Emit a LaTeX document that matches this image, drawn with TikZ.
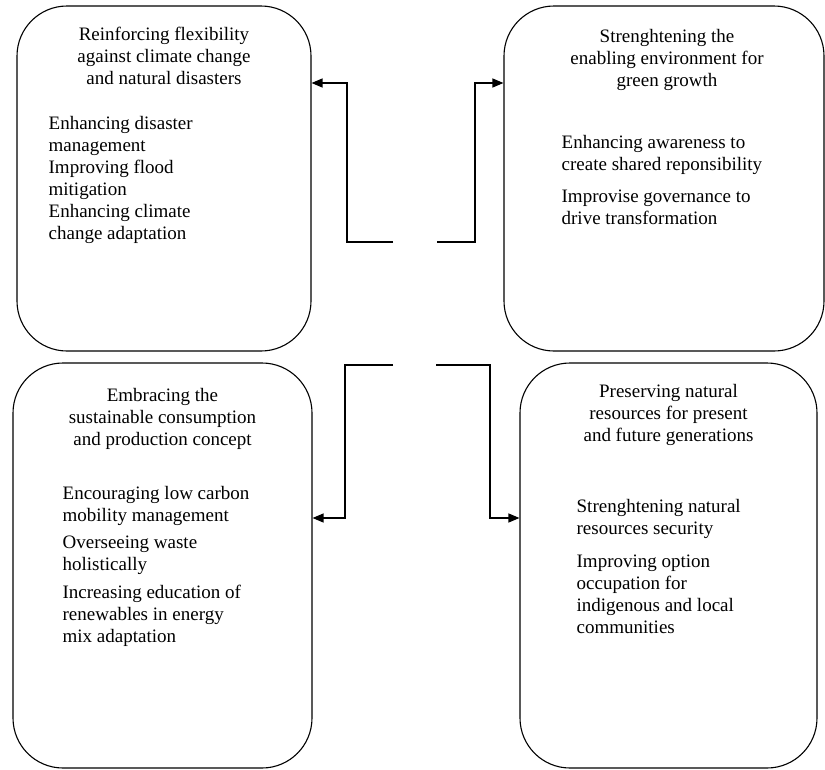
\documentclass[tikz,border=0pt]{standalone}
\usepackage{fontspec}
\setmainfont{Liberation Serif}
\usetikzlibrary{arrows.meta,positioning}

\tikzstyle{goal}=[draw,line width=1.1pt,rounded corners=50pt,inner sep=0pt]
\tikzstyle{title}=[align=center,inner sep=0pt,font=\fontsize{19}{22}\selectfont]
\tikzstyle{item}=[align=left,inner sep=0pt,anchor=north west,font=\fontsize{19}{22}\selectfont]
\tikzstyle{link}=[draw,line width=1.2pt,-{Triangle[length=11pt,width=9pt]}]

\begin{document}
\begin{tikzpicture}[x=1pt, y=-1pt]
    \useasboundingbox (0,0) rectangle (825,769);
    % First we draw the four boxes
    \foreach \pos/\name/\w/\h in {{(164,178.5)/flex/294/345}, {(664,178.5)/green/320/345},
        {(162.5,565.5)/scp/299/405}, {(668.5,565.5)/natres/297/405}}
        \node[goal, minimum width=\w pt, minimum height=\h pt] (\name) at \pos {};
    % Titles
    \node[title, below=21.5pt of flex.north] (flextitle)
        {Reinforcing flexibility\\against climate change\\and natural disasters};
    \node[title, below=23.5pt of green.north, xshift=3pt] (greentitle)
        {Strenghtening the\\enabling environment for\\green growth};
    \node[title, below=25.5pt of scp.north] (scptitle)
        {Embracing the\\sustainable consumption\\and production concept};
    \node[title, below=21.5pt of natres.north] (natrestitle)
        {Preserving natural\\resources for present\\and future generations};
    % Items
    \node[item] (flexitems) at ([xshift=32pt,yshift=-111pt]flex.north west)
        {Enhancing disaster\\management\\Improving flood\\mitigation\\Enhancing climate\\change adaptation};
    \node[item] (greenitems) at ([xshift=58pt,yshift=-129.5pt]green.north west)
        {Enhancing awareness to\\create shared reponsibility\\[10pt]Improvise governance to\\drive transformation};
    \node[item] (scpitems) at ([xshift=50pt,yshift=-123.5pt]scp.north west)
        {Encouraging low carbon\\mobility management\\[5pt]Overseeing waste\\holistically\\[6pt]Increasing education of\\renewables in energy\\mix adaptation};
    \node[item] (natresitems) at ([xshift=57pt,yshift=-136.5pt]natres.north west)
        {Strenghtening natural\\resources security\\[11pt]Improving option\\occupation for\\indigenous and local\\communities};
    % Connectors from the middle
    \coordinate (lt) at (393,242);
    \coordinate (rt) at (437,242);
    \coordinate (lb) at (393,365);
    \coordinate (rb) at (436,365);
    \coordinate (ltbend) at (347,83);
    \coordinate (rtbend) at (475,83);
    \coordinate (lbbend) at (345,518);
    \coordinate (rbbend) at (490,518);
    \path[link] (lt) -| (ltbend) -- (ltbend -| flex.east);
    \path[link] (rt) -| (rtbend) -- (rtbend -| green.west);
    \path[link] (lb) -| (lbbend) -- (lbbend -| scp.east);
    \path[link] (rb) -| (rbbend) -- (rbbend -| natres.west);
\end{tikzpicture}
\end{document}
